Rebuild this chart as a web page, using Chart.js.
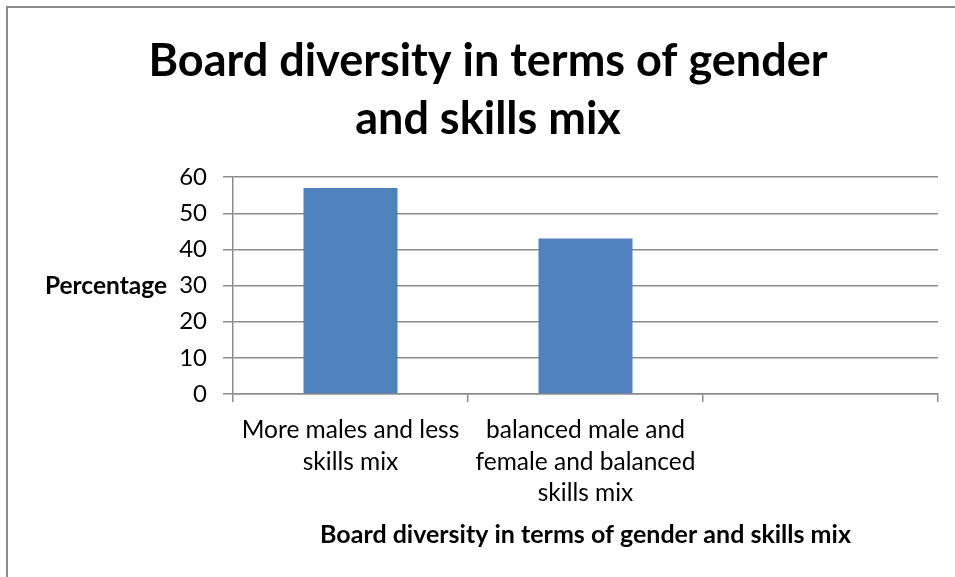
<!DOCTYPE html>
<html lang="en">
<head>
  <meta charset="UTF-8" />
  <title>Board diversity</title>
  <script src="https://cdn.jsdelivr.net/npm/chart.js"></script>
  <style>
    html, body {
      margin: 0;
      padding: 0;
      background: #fff;
      overflow: hidden;
      width: 955px;
      height: 577px;
    }
    #frame {
      position: absolute;
      left: 6px;
      top: 6px;
      width: 1000px;
      height: 620px;
      border-left: 2px solid #8a8a8a;
      border-top: 2px solid #8a8a8a;
    }
    #boardChart {
      position: absolute;
      left: 0;
      top: 0;
    }
  </style>
</head>
<body>
  <div id="frame"></div>
  <canvas id="boardChart" width="976" height="577"></canvas>

  <script>
    const categories = [
      ['More males and less', 'skills mix'],
      ['balanced male and', 'female and balanced', 'skills mix'],
      ''
    ];
    const percentages = [57, 43, null];
    const yTicks = { min: 0, max: 60, step: 10 };

    const chartTitle = ['Board diversity in terms of gender', 'and skills mix'];
    const xTitle = 'Board diversity in terms of gender and skills mix';
    const yTitle = 'Percentage';

    const FONT = 'Lato, "Open Sans", sans-serif';
    const GRID = '#8c8c8c';

    // y-axis title sits flat to the left of the tick labels
    const flatYTitle = {
      id: 'flatYTitle',
      afterDraw(chart) {
        const { ctx, chartArea } = chart;
        ctx.save();
        ctx.font = 'bold 24.5px ' + FONT;
        ctx.fillStyle = '#000';
        ctx.textAlign = 'right';
        ctx.textBaseline = 'middle';
        ctx.fillText(yTitle, chartArea.left - 66, (chartArea.top + chartArea.bottom) / 2 + 1);
        ctx.restore();
      }
    };

    new Chart(document.getElementById('boardChart'), {
      type: 'bar',
      data: {
        labels: categories,
        datasets: [{
          label: yTitle,
          data: percentages,
          backgroundColor: '#4f81bd',
          borderWidth: 0,
          categoryPercentage: 1,
          barPercentage: 0.4
        }]
      },
      options: {
        responsive: false,
        animation: false,
        layout: { padding: { left: 38, right: 38, top: 0, bottom: 0 } },
        plugins: {
          legend: { display: false },
          tooltip: { enabled: false },
          title: {
            display: true,
            text: chartTitle,
            color: '#000',
            font: { family: FONT, size: 45, weight: 'bold', lineHeight: 1.29 },
            padding: { top: 32, bottom: 29 }
          }
        },
        scales: {
          x: {
            offset: true,
            grid: {
              offset: true,
              drawOnChartArea: false,
              drawTicks: true,
              tickLength: 8,
              color: GRID,
              lineWidth: 1.5
            },
            border: { display: true, color: GRID, width: 1.5 },
            ticks: {
              color: '#000',
              padding: 13,
              maxRotation: 0,
              autoSkip: false,
              font: { family: FONT, size: 24.5, lineHeight: 1.27 }
            },
            title: {
              display: true,
              text: xTitle,
              color: '#000',
              font: { family: FONT, size: 25, weight: 'bold', lineHeight: 1.2 },
              padding: { top: 0, bottom: 27 }
            },
            afterFit(scale) { scale.height = 183; }
          },
          y: {
            min: yTicks.min,
            max: yTicks.max,
            grid: {
              color: GRID,
              lineWidth: 1.5,
              drawTicks: true,
              tickLength: 10
            },
            border: { display: true, color: GRID, width: 1.5 },
            ticks: {
              stepSize: yTicks.step,
              color: '#000',
              padding: 16,
              font: { family: FONT, size: 24 }
            },
            afterFit(scale) { scale.width = 195; }
          }
        }
      },
      plugins: [flatYTitle]
    });
  </script>
</body>
</html>
